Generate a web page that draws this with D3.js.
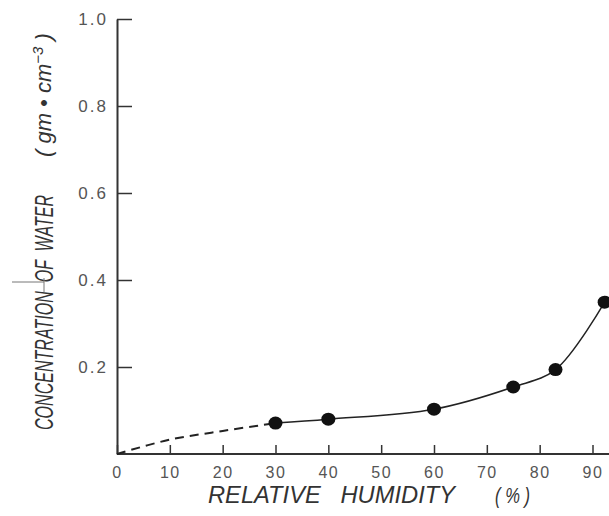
<!DOCTYPE html>
<html>
<head>
<meta charset="utf-8">
<script src="https://cdn.jsdelivr.net/npm/d3@7"></script>
<style>
	body { margin: 0; background: #fff; }
	.tickLabel { font-family: 'Liberation Sans', Arial, sans-serif; fill: #555; }
	.axisTitle { font-family: 'Liberation Sans', Arial, sans-serif; font-style: italic; fill: #333; white-space: pre; }
</style>
</head>
<body>
<div id="js_chart"></div>
<script>
/*globals d3*/
'use strict';

// measured points
const humidity = [30, 40, 60, 75, 83, 92.3];
const water = [0.071, 0.080, 0.103, 0.154, 0.194, 0.349];
// extrapolated part (dashed) down to the origin
const dashHumidity = [0, 10, 20, 30];
const dashWater = [0, 0.033, 0.053, 0.071];

const xTicks = [0, 10, 20, 30, 40, 50, 60, 70, 80, 90];
const yTicks = [0.2, 0.4, 0.6, 0.8, 1.0];
const xAxisEnd = 93.2;

const width = 609;
const height = 516;
const axisColor = '#333';

let svg = d3.select('#js_chart').append('svg')
	.attr('width', width)
	.attr('height', height);

let xScale = d3.scaleLinear().domain([0, 90]).range([117, 592.5]);
let yScale = d3.scaleLinear().domain([0, 1]).range([454, 19]);

// Y axis, ticks pointing inward
let yAxis = svg.append('g')
	.attr('transform', 'translate(' + xScale(0) + ',0)')
	.call(d3.axisLeft(yScale).tickValues(yTicks).tickFormat(d3.format('.1f'))
		.tickSizeInner(-15).tickSizeOuter(0).tickPadding(9));
yAxis.select('.domain').attr('stroke', axisColor).attr('stroke-width', 2);
yAxis.selectAll('.tick line').attr('stroke', axisColor).attr('stroke-width', 1.5);
yAxis.selectAll('.tick text').attr('class', 'tickLabel')
	.attr('font-size', 17).attr('letter-spacing', 2).attr('fill', null);

// X axis, ticks pointing up
let xAxis = svg.append('g')
	.attr('transform', 'translate(0,' + yScale(0) + ')')
	.call(d3.axisBottom(xScale).tickValues(xTicks)
		.tickSizeInner(-9).tickSizeOuter(0).tickPadding(13));
xAxis.select('.domain').remove();
xAxis.append('line')
	.attr('x1', xScale(0)).attr('x2', xScale(xAxisEnd))
	.attr('stroke', axisColor).attr('stroke-width', 2);
xAxis.selectAll('.tick line').attr('stroke', axisColor).attr('stroke-width', 1.5);
xAxis.selectAll('.tick text').attr('class', 'tickLabel')
	.attr('font-size', 16).attr('letter-spacing', 1.5).attr('fill', null);

// curves
let line = d3.line()
	.x(function (d) { return xScale(d[0]); })
	.y(function (d) { return yScale(d[1]); })
	.curve(d3.curveCatmullRom.alpha(0.5));

svg.append('path')
	.datum(d3.zip(dashHumidity, dashWater))
	.attr('d', line)
	.attr('fill', 'none')
	.attr('stroke', '#222')
	.attr('stroke-width', 2)
	.attr('stroke-dasharray', '9,6');

svg.append('path')
	.datum(d3.zip(humidity, water))
	.attr('d', line)
	.attr('fill', 'none')
	.attr('stroke', '#222')
	.attr('stroke-width', 1.5);

svg.selectAll('.point')
	.data(d3.zip(humidity, water))
	.enter().append('ellipse')
	.attr('class', 'point')
	.attr('cx', function (d) { return xScale(d[0]); })
	.attr('cy', function (d) { return yScale(d[1]); })
	.attr('rx', 7)
	.attr('ry', 6.5)
	.attr('fill', '#111');

// axis titles
svg.append('text')
	.attr('class', 'axisTitle')
	.attr('x', 208).attr('y', 503)
	.attr('font-size', 24)
	.attr('textLength', 247).attr('lengthAdjust', 'spacingAndGlyphs')
	.text('RELATIVE   HUMIDITY');
svg.append('text')
	.attr('class', 'axisTitle')
	.attr('x', 495).attr('y', 503)
	.attr('font-size', 22)
	.attr('textLength', 35).attr('lengthAdjust', 'spacingAndGlyphs')
	.text('( % )');

svg.append('text')
	.attr('class', 'axisTitle')
	.attr('transform', 'translate(53,430) rotate(-90)')
	.attr('font-size', 25)
	.attr('textLength', 235).attr('lengthAdjust', 'spacingAndGlyphs')
	.text('CONCENTRATION  OF  WATER');
let unitText = svg.append('text')
	.attr('class', 'axisTitle')
	.attr('transform', 'translate(51,157) rotate(-90)')
	.attr('font-size', 22);
unitText.append('tspan').text('( gm \u2022 cm');
unitText.append('tspan').attr('dy', -8).attr('font-size', 15).text('\u22123');
unitText.append('tspan').attr('dy', 8).text(' )');

// stray mark from the scanned figure
svg.append('line')
	.attr('x1', 12).attr('x2', 44).attr('y1', 282).attr('y2', 282)
	.attr('stroke', '#777').attr('stroke-width', 1);
svg.append('line')
	.attr('x1', 44).attr('x2', 44).attr('y1', 278).attr('y2', 292)
	.attr('stroke', '#777').attr('stroke-width', 1);
</script>
</body>
</html>
